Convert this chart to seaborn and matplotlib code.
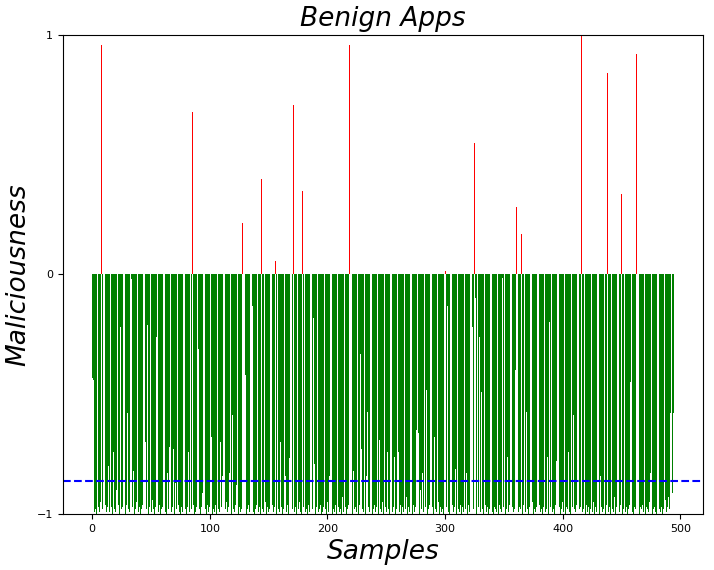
import matplotlib
matplotlib.use("Agg")
import matplotlib.pyplot as plt
import seaborn as sns
import pandas as pd

# maliciousness score per benign sample (15 per row)
scores = [
    -0.43, -0.44, -0.99, -0.98, -1.0, -0.97, -0.99, -0.95, 0.956, -0.98, -1.0, -0.96, -0.99, -0.97, -0.80,
    -0.99, -0.97, -1.0, -0.74, -0.98, -0.99, -0.90, -0.96, -1.0, -0.22, -0.98, -0.97, -0.99, -1.0, -0.96,
    -0.58, -0.98, -0.99, -0.02, -0.97, -0.82, -1.0, -0.98, -0.95, -0.99, -0.97, -1.0, -0.98, -0.96, -0.99,
    -0.70, -0.98, -0.21, -1.0, -0.97, -0.99, -0.94, -0.98, -1.0, -0.97, -0.26, -0.99, -0.96, -1.0, -0.98,
    -0.97, -0.53, -0.99, -1.0, -0.83, -0.98, -0.72, -0.99, -0.97, -0.73, -1.0, -0.87, -0.98, -0.96, -0.99,
    -1.0, -0.97, -0.99, -0.95, -0.98, -1.0, -0.97, -0.74, -0.99, -0.98, 0.676, -0.96, -1.0, -0.99, -0.97,
    -0.31, -0.98, -1.0, -0.97, -0.91, -0.99, -0.98, -1.0, -0.96, -0.99, -0.97, -0.68, -1.0, -0.98, -0.99,
    -0.96, -1.0, -0.98, -0.99, -0.70, -0.97, -0.84, -1.0, -0.98, -0.95, -0.99, -0.97, -0.83, -1.0, -0.585,
    -0.98, -0.99, -0.96, -0.88, -1.0, -0.97, -0.99, -0.98, 0.213, -0.97, -0.42, -1.0, -0.98, -0.96, -0.99,
    -0.97, -0.13, -0.99, -1.0, -0.98, -0.96, -0.99, -0.97, -1.0, 0.40, -0.98, -0.99, -0.95, -1.0, -0.97,
    -0.99, -0.98, -1.0, -0.96, -0.99, -0.97, 0.058, -1.0, -0.98, -0.99, -0.70, -0.97, -1.0, -0.98, -0.84,
    -0.99, -0.96, -1.0, -0.765, -0.77, -0.98, 0.705, -0.99, -0.97, -1.0, -0.98, -0.95, -0.99, -1.0, 0.347,
    -0.97, -0.99, -0.98, -1.0, -0.96, -0.99, 0.885, -0.98, -0.18, -0.79, -1.0, -0.97, -0.99, -0.98, -0.96,
    -1.0, -0.99, -0.97, -0.98, -1.0, -0.95, -0.99, -0.84, -0.97, -1.0, -0.98, -0.99, -0.96, -1.0, -0.97,
    -0.99, -0.98, -1.0, -0.93, -0.99, -0.97, -1.0, -0.98, -0.96, 0.956, -0.99, -1.0, -0.82, -0.98, -0.97,
    -0.99, -1.0, -0.96, -0.33, -0.73, -0.98, -0.99, -1.0, -0.84, -0.575, -0.97, -0.99, -0.49, -1.0, -0.98,
    -0.96, -0.99, -0.97, -1.0, -0.69, -0.98, -0.99, -0.95, -1.0, -0.97, -0.99, -0.74, -0.98, -1.0, -0.96,
    -0.99, -0.97, -0.76, -1.0, -0.98, -0.74, -0.99, -0.96, -1.0, -0.97, -0.99, -0.98, -0.93, -1.0, -0.97,
    -0.99, -0.98, -1.0, -0.96, -0.99, -0.97, -0.65, -0.66, -1.0, -0.90, -0.98, -0.83, -0.99, -0.97, -0.48,
    -1.0, -0.98, -0.96, -0.99, -0.97, -1.0, -0.68, -0.98, -0.99, -0.95, -1.0, -0.97, -0.99, -0.98, -1.0,
    0.0125, -0.97, -0.13, -0.99, -1.0, -0.98, -0.96, -0.99, -0.97, -0.81, -1.0, -0.98, -0.99, -0.96, -1.0,
    -0.97, -0.99, -0.98, -0.83, -1.0, -0.96, -0.99, -0.97, -0.22, -0.98, 0.547, -0.10, -1.0, -0.97, -0.26,
    -0.99, -0.49, -0.98, -1.0, -0.96, -0.99, -0.97, -1.0, -0.98, -0.95, -0.99, -1.0, -0.97, -0.98, -0.99,
    -1.0, -0.96, -0.98, -0.99, -0.015, -0.97, -1.0, -0.98, -0.76, -0.99, -0.96, -1.0, -0.97, -0.99, -0.98,
    -0.40, 0.28, -0.99, -0.97, -0.98, 0.167, -1.0, -0.96, -0.99, -0.575, -0.98, -1.0, -0.97, -0.99, -0.95,
    -1.0, -0.98, -0.99, -0.97, -1.0, -0.96, -0.99, -0.98, -1.0, -0.97, -0.99, -0.98, -0.76, -1.0, -0.20,
    -0.97, -0.99, -0.98, -1.0, -0.96, -0.78, -0.99, -0.97, -1.0, -0.98, -0.95, -0.99, -1.0, -0.97, -0.98,
    -0.74, -0.99, -1.0, -0.97, -0.585, -0.98, -0.99, -0.96, -1.0, -0.98, -0.97, 1.0, -0.99, -0.98, -1.0,
    -0.96, -0.99, -0.97, -1.0, -0.98, -0.99, -0.95, -1.0, -0.97, -0.99, -0.98, -1.0, -0.84, -0.97, -0.99,
    -0.98, -1.0, -0.96, 0.839, -0.99, -0.97, -1.0, -0.98, -0.99, -0.93, -1.0, -0.97, -0.98, -0.99, -0.96,
    0.334, -1.0, -0.98, -0.99, -0.97, -1.0, -0.98, -0.96, -0.45, -0.99, -1.0, -0.97, -0.98, 0.918, -0.99,
    -1.0, -0.97, -0.98, -0.96, -0.99, -1.0, -0.97, -0.98, -0.99, -0.95, -0.83, -1.0, -0.98, -0.97, -0.99,
    -1.0, -0.96, -0.98, -0.99, -0.97, -1.0, -0.98, -0.94, -0.99, -0.97, -0.93, -0.98, -0.58, -0.91, -0.58,
]
threshold = -0.86
xticks = [0, 100, 200, 300, 400, 500]
yticks = [-1, 0, 1]

df = pd.DataFrame({"sample": range(len(scores)), "score": scores})
df["kind"] = ["malicious" if s > 0 else "benign" for s in scores]

fig, ax = plt.subplots(figsize=(7.14, 5.7), dpi=100)
fig.subplots_adjust(left=0.088, right=0.985, top=0.939, bottom=0.098)

sns.barplot(
    data=df, x="sample", y="score", hue="kind",
    palette={"malicious": "red", "benign": "green"},
    native_scale=True, dodge=False, saturation=1, width=0.8,
    linewidth=0, errorbar=None, legend=False, ax=ax,
)
ax.axhline(threshold, color="blue", linestyle="--", linewidth=1.5)

ax.set_xlim(-25, 519.5)
ax.set_ylim(-1, 1)
ax.set_xticks(xticks)
ax.set_yticks(yticks)
ax.tick_params(labelsize=8)
ax.set_title("Benign Apps", fontsize=19, style="italic")
ax.set_xlabel("Samples", fontsize=19, style="italic")
ax.set_ylabel("Maliciousness", fontsize=19, style="italic")

fig.savefig("out.png", dpi=100)
